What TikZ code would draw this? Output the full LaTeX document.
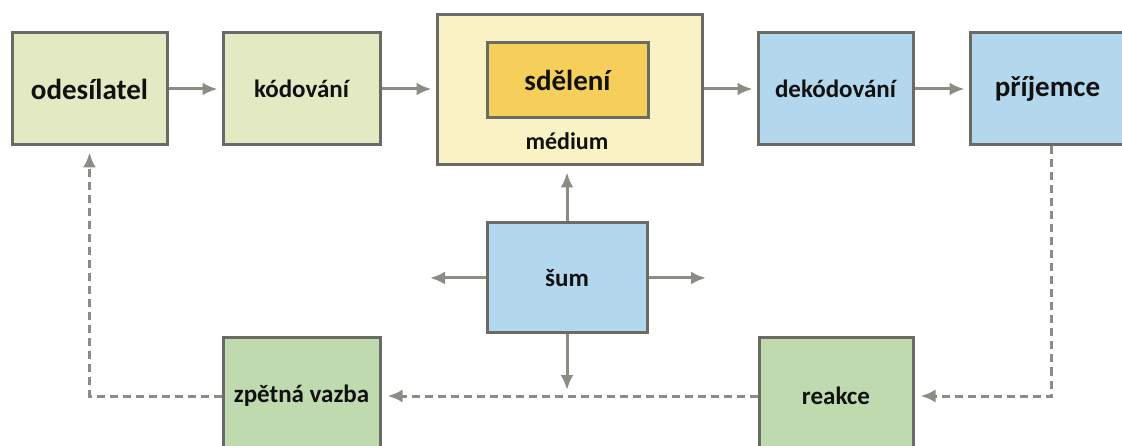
\documentclass[tikz,border=0pt]{standalone}
\usepackage{fontspec}
\setmainfont{Carlito}
\usetikzlibrary{arrows.meta}
\definecolor{bordergrey}{HTML}{6B6B66}
\definecolor{conngrey}{HTML}{8A8D84}
\definecolor{fillolive}{HTML}{E3E9C2}
\definecolor{fillcream}{HTML}{F8F2C4}
\definecolor{fillgold}{HTML}{F5CF5A}
\definecolor{fillblue}{HTML}{B3D7EC}
\definecolor{fillgreen}{HTML}{BFDAAE}
\definecolor{textdark}{HTML}{111111}
\begin{document}
\begin{tikzpicture}[x=1pt,y=-1pt,
  box/.style={draw=bordergrey, line width=3pt, rectangle, inner sep=0pt,
    text=textdark, font=\bfseries\fontsize{25}{28}\selectfont},
  bigtext/.style={font=\bfseries\fontsize{29}{32}\selectfont},
  conn/.style={draw=conngrey, line width=3pt,
    -{Latex[length=15pt,width=13pt]}, shorten >=4pt},
  dconn/.style={conn, dash pattern=on 8pt off 5pt}]
\useasboundingbox (0,0) rectangle (1122,446);
\clip (0,0) rectangle (1122,446);
% top row
\node[box, bigtext, fill=fillolive, minimum width=155pt, minimum height=112pt] (odes) at (89.5,89) {odesílatel};
\node[box, fill=fillolive, minimum width=157pt, minimum height=112pt] (kod) at (301.5,89) {kódování};
\node[box, fill=fillcream, minimum width=265pt, minimum height=150pt] (medium) at (569.5,90) {};
\node[box, bigtext, fill=fillgold, minimum width=161pt, minimum height=75pt] (sdel) at (567.5,80.5) {sdělení};
\node[text=textdark, font=\bfseries\fontsize{24}{27}\selectfont, inner sep=0pt] (medtext) at (567,141) {médium};
\node[box, fill=fillblue, minimum width=155pt, minimum height=112pt] (dekod) at (835.5,89) {dekódování};
\node[box, bigtext, fill=fillblue, minimum width=155pt, minimum height=112pt] (prij) at (1047.5,89) {příjemce};
% middle
\node[box, fill=fillblue, minimum width=160pt, minimum height=110pt] (sum) at (567,278) {šum};
% bottom
\node[box, fill=fillgreen, minimum width=157pt, minimum height=116pt] (zpet) at (301.5,396) {zpětná vazba};
\node[box, fill=fillgreen, minimum width=154pt, minimum height=116pt] (reak) at (836,396) {reakce};
% free ends
\coordinate (sumL) at (430,278);
\coordinate (sumR) at (706,278);
\coordinate (sumD) at (567,390);
% connectors
\draw[conn] (odes.east) -- (kod.west);
\draw[conn] (kod.east) -- (kod.east -| medium.west);
\draw[conn] (dekod.west -| medium.east) -- (dekod.west);
\draw[conn] (dekod.east) -- (prij.west);
\draw[conn, shorten >=6pt] (sum.north) -- (sum.north |- medium.south);
\draw[conn, shorten >=0pt] (sum.west) -- (sumL);
\draw[conn, shorten >=0pt] (sum.east) -- (sumR);
\draw[conn, shorten >=0pt] (sum.south) -- (sumD);
\draw[dconn, shorten >=6pt] ([xshift=4pt]prij.south) |- (reak.east);
\draw[dconn, shorten >=6pt] (reak.west) -- (zpet.east);
\draw[dconn, shorten >=6pt] (zpet.west) -| (odes.south);
\end{tikzpicture}
\end{document}
